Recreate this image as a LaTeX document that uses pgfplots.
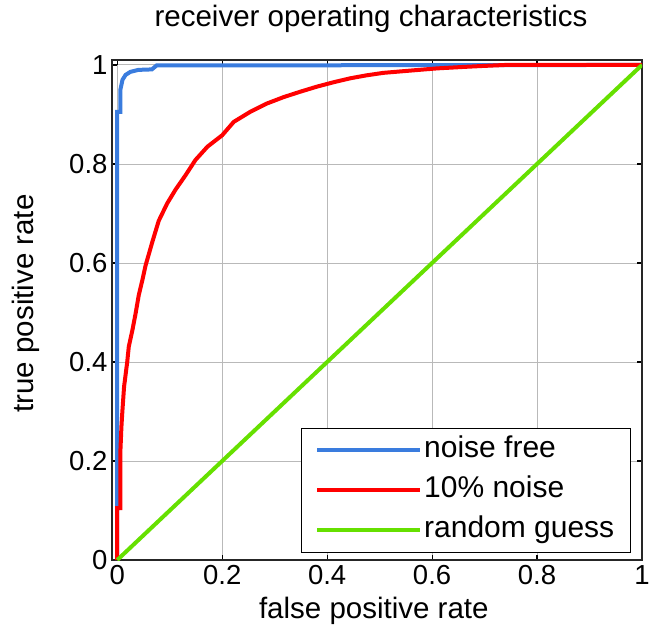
\documentclass[border=0pt]{standalone}
\usepackage{fontspec}
\setmainfont{Liberation Sans}
\usepackage{pgfplots}
\pgfplotsset{compat=1.18}

\definecolor{nfblue}{RGB}{58,124,222}
\definecolor{nred}{RGB}{255,0,0}
\definecolor{rgreen}{RGB}{102,224,0}

\newcommand{\tickfont}{\fontsize{27.5}{31}\selectfont}
\newcommand{\labelfont}{\fontsize{29.5}{33}\selectfont}
\newcommand{\legendfont}{\fontsize{30}{33}\selectfont}

\begin{document}
\begin{tikzpicture}
\begin{axis}[
  scale only axis,
  width=530pt, height=500pt,
  xmin=-0.01, xmax=1, ymin=0, ymax=1.01,
  xtick={0,0.2,0.4,0.6,0.8,1},
  ytick={0,0.2,0.4,0.6,0.8,1},
  /pgf/number format/assume math mode=true,
  grid=major,
  major grid style={gray!55, line width=0.9pt},
  axis line style={line width=1.6pt, black!85},
  tick align=inside,
  major tick length=5pt,
  tick style={black, line width=1.2pt},
  ticklabel style={font=\tickfont},
  xticklabel style={yshift=-2pt},
  yticklabel style={xshift=-1pt},
  title={receiver operating characteristics},
  title style={font=\labelfont, anchor=base, at={(axis description cs:0.5,1)}, yshift=27pt, xshift=-6pt},
  xlabel={false positive rate},
  xlabel style={font=\labelfont, anchor=base, at={(axis description cs:0.494,-0.116)}},
  ylabel={true positive rate},
  ylabel style={font=\labelfont, anchor=base, at={(axis description cs:-0.149,0.513)}},
  legend cell align=left,
  legend style={
    at={(0.979,0.014)}, anchor=south east,
    draw=black, line width=1.2pt,
    font=\legendfont,
    inner xsep=14pt, inner ysep=2pt,
    nodes={text height=22pt, text depth=8pt, inner ysep=5pt},
  },
  legend image code/.code={
    \path (0pt,0pt) -- (103pt,0pt);
    \draw[#1, line width=4pt] (8pt,0pt) -- (98pt,0pt);
  },
]

% classifier trained on clean labels
\addplot[color=nfblue, line width=4pt] coordinates {
  (0,0) (0,0.905) (0.006,0.905) (0.006,0.95) (0.010,0.970) (0.016,0.980)
  (0.025,0.986) (0.040,0.990) (0.066,0.991) (0.075,0.999) (1,1)
};
\addlegendentry{noise free}

% classifier trained with 10% label noise
\addplot[color=nred, line width=4pt] coordinates {
  (0,0) (0,0.105) (0.006,0.105) (0.006,0.22) (0.008,0.27) (0.0095,0.296)
  (0.013,0.350) (0.019,0.400) (0.022,0.431) (0.029,0.465) (0.035,0.498)
  (0.041,0.535) (0.048,0.566) (0.054,0.595) (0.067,0.643) (0.079,0.685)
  (0.095,0.720) (0.111,0.748) (0.130,0.777) (0.149,0.808) (0.172,0.835)
  (0.200,0.858) (0.222,0.885) (0.253,0.905) (0.285,0.922) (0.317,0.935)
  (0.349,0.946) (0.380,0.956) (0.412,0.965) (0.444,0.973) (0.475,0.979)
  (0.507,0.984) (0.552,0.988) (0.609,0.993) (0.660,0.996) (0.698,0.998)
  (0.740,1) (1,1)
};
\addlegendentry{10\% noise}

% chance level
\addplot[color=rgreen, line width=4pt] coordinates {(0,0) (1,1)};
\addlegendentry{random guess}

\end{axis}
\pgfresetboundingbox
\path[use as bounding box] (current axis.south west) ++(-112pt,-66pt)
  rectangle ([xshift=7pt,yshift=60pt]current axis.north east);
\end{tikzpicture}
\end{document}
